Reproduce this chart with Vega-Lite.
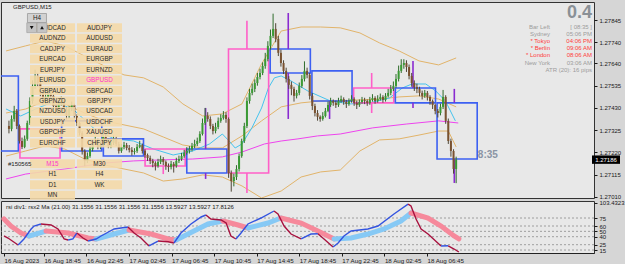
{
"$schema":"https://vega.github.io/schema/vega-lite/v6.json",
"background":"#d6d6d6",
"padding":{"left":0,"top":1,"right":0,"bottom":0},
"spacing":3,
"bounds":"flush",
"config":{"font":"Liberation Sans","view":{"stroke":"#333333","strokeWidth":1,"fill":"#e8e8e8"},
"axis":{"domain":false,"grid":false,"labelColor":"#1a1a1a","tickColor":"#1a1a1a","labelFont":"Liberation Sans","labelFontSize":6,"tickSize":3,"labelPadding":2,"labelOverlap":false,"labelFlush":false,"labelBound":false}},
"datasets":{
"candles":[
{"i":0,"o":1.27345,"h":1.2737,"l":1.2731,"c":1.27331},
{"i":1,"o":1.27331,"h":1.27395,"l":1.2732,"c":1.27378},
{"i":2,"o":1.27378,"h":1.2744,"l":1.27365,"c":1.27416},
{"i":3,"o":1.27416,"h":1.27425,"l":1.2733,"c":1.27345},
{"i":4,"o":1.27345,"h":1.27352,"l":1.27262,"c":1.27274},
{"i":5,"o":1.27274,"h":1.2729,"l":1.27236,"c":1.27246},
{"i":6,"o":1.27246,"h":1.273,"l":1.2724,"c":1.27284},
{"i":7,"o":1.27284,"h":1.2737,"l":1.27275,"c":1.27359},
{"i":8,"o":1.27359,"h":1.2748,"l":1.2735,"c":1.27463},
{"i":9,"o":1.27463,"h":1.2756,"l":1.2745,"c":1.27534},
{"i":10,"o":1.27534,"h":1.2761,"l":1.2752,"c":1.27581},
{"i":11,"o":1.27581,"h":1.27595,"l":1.2753,"c":1.27548},
{"i":12,"o":1.27548,"h":1.2756,"l":1.27485,"c":1.27501},
{"i":13,"o":1.27501,"h":1.27515,"l":1.27445,"c":1.27463},
{"i":14,"o":1.27463,"h":1.275,"l":1.2745,"c":1.27482},
{"i":15,"o":1.27482,"h":1.2753,"l":1.2747,"c":1.2751},
{"i":16,"o":1.2751,"h":1.27525,"l":1.2747,"c":1.27487},
{"i":17,"o":1.27487,"h":1.27495,"l":1.27425,"c":1.27439},
{"i":18,"o":1.27439,"h":1.2745,"l":1.274,"c":1.27416},
{"i":19,"o":1.27416,"h":1.2747,"l":1.27405,"c":1.27454},
{"i":20,"o":1.27454,"h":1.27485,"l":1.2744,"c":1.27463},
{"i":21,"o":1.27463,"h":1.27475,"l":1.2741,"c":1.27425},
{"i":22,"o":1.27425,"h":1.27435,"l":1.27375,"c":1.27392},
{"i":23,"o":1.27392,"h":1.2744,"l":1.2738,"c":1.27425},
{"i":24,"o":1.27425,"h":1.2746,"l":1.27415,"c":1.27444},
{"i":25,"o":1.27444,"h":1.2745,"l":1.2738,"c":1.27392},
{"i":26,"o":1.27392,"h":1.274,"l":1.27345,"c":1.27359},
{"i":27,"o":1.27359,"h":1.27365,"l":1.273,"c":1.27312},
{"i":28,"o":1.27312,"h":1.2732,"l":1.2721,"c":1.27227},
{"i":29,"o":1.27227,"h":1.27235,"l":1.27155,"c":1.2718},
{"i":30,"o":1.2718,"h":1.2722,"l":1.2717,"c":1.27203},
{"i":31,"o":1.27203,"h":1.2725,"l":1.27195,"c":1.27236},
{"i":32,"o":1.27236,"h":1.2728,"l":1.27225,"c":1.27265},
{"i":33,"o":1.27265,"h":1.27295,"l":1.27255,"c":1.27274},
{"i":34,"o":1.27274,"h":1.27285,"l":1.27235,"c":1.27246},
{"i":35,"o":1.27246,"h":1.27275,"l":1.27235,"c":1.2726},
{"i":36,"o":1.2726,"h":1.2731,"l":1.2725,"c":1.27293},
{"i":37,"o":1.27293,"h":1.27305,"l":1.2726,"c":1.27274},
{"i":38,"o":1.27274,"h":1.27285,"l":1.2724,"c":1.27251},
{"i":39,"o":1.27251,"h":1.2728,"l":1.2724,"c":1.27265},
{"i":40,"o":1.27265,"h":1.273,"l":1.27255,"c":1.27284},
{"i":41,"o":1.27284,"h":1.27295,"l":1.2725,"c":1.2726},
{"i":42,"o":1.2726,"h":1.2727,"l":1.27215,"c":1.27227},
{"i":43,"o":1.27227,"h":1.2726,"l":1.27218,"c":1.27246},
{"i":44,"o":1.27246,"h":1.2727,"l":1.27235,"c":1.27255},
{"i":45,"o":1.27255,"h":1.27265,"l":1.2723,"c":1.27241},
{"i":46,"o":1.27241,"h":1.27255,"l":1.2722,"c":1.27232},
{"i":47,"o":1.27232,"h":1.27245,"l":1.27205,"c":1.27222},
{"i":48,"o":1.27222,"h":1.2724,"l":1.2721,"c":1.27227},
{"i":49,"o":1.27227,"h":1.2726,"l":1.27218,"c":1.27246},
{"i":50,"o":1.27246,"h":1.27275,"l":1.2724,"c":1.27255},
{"i":51,"o":1.27255,"h":1.27262,"l":1.27215,"c":1.27227},
{"i":52,"o":1.27227,"h":1.27235,"l":1.27195,"c":1.27208},
{"i":53,"o":1.27208,"h":1.27215,"l":1.2718,"c":1.27194},
{"i":54,"o":1.27194,"h":1.27205,"l":1.27165,"c":1.2718},
{"i":55,"o":1.2718,"h":1.2719,"l":1.2715,"c":1.2717},
{"i":56,"o":1.2717,"h":1.27178,"l":1.27135,"c":1.27156},
{"i":57,"o":1.27156,"h":1.2719,"l":1.27148,"c":1.27175},
{"i":58,"o":1.27175,"h":1.27205,"l":1.27165,"c":1.27189},
{"i":59,"o":1.27189,"h":1.27198,"l":1.2716,"c":1.27175},
{"i":60,"o":1.27175,"h":1.27182,"l":1.27138,"c":1.27156},
{"i":61,"o":1.27156,"h":1.27168,"l":1.27128,"c":1.27151},
{"i":62,"o":1.27151,"h":1.2718,"l":1.2714,"c":1.27166},
{"i":63,"o":1.27166,"h":1.27175,"l":1.27125,"c":1.27156},
{"i":64,"o":1.27156,"h":1.27195,"l":1.27148,"c":1.2718},
{"i":65,"o":1.2718,"h":1.27205,"l":1.2717,"c":1.27189},
{"i":66,"o":1.27189,"h":1.27218,"l":1.2718,"c":1.27203},
{"i":67,"o":1.27203,"h":1.27232,"l":1.27195,"c":1.27218},
{"i":68,"o":1.27218,"h":1.27245,"l":1.2721,"c":1.27227},
{"i":69,"o":1.27227,"h":1.2725,"l":1.27215,"c":1.27236},
{"i":70,"o":1.27236,"h":1.27265,"l":1.27225,"c":1.27251},
{"i":71,"o":1.27251,"h":1.2728,"l":1.2724,"c":1.2726},
{"i":72,"o":1.2726,"h":1.2729,"l":1.2725,"c":1.27274},
{"i":73,"o":1.27274,"h":1.2732,"l":1.27265,"c":1.27307},
{"i":74,"o":1.27307,"h":1.2738,"l":1.273,"c":1.27359},
{"i":75,"o":1.27359,"h":1.2743,"l":1.2735,"c":1.27392},
{"i":76,"o":1.27392,"h":1.2741,"l":1.27365,"c":1.27378},
{"i":77,"o":1.27378,"h":1.2739,"l":1.2733,"c":1.27345},
{"i":78,"o":1.27345,"h":1.27355,"l":1.27305,"c":1.27321},
{"i":79,"o":1.27321,"h":1.2736,"l":1.2731,"c":1.2734},
{"i":80,"o":1.2734,"h":1.27385,"l":1.2733,"c":1.27369},
{"i":81,"o":1.27369,"h":1.274,"l":1.2736,"c":1.27383},
{"i":82,"o":1.27383,"h":1.27415,"l":1.27375,"c":1.27397},
{"i":83,"o":1.27397,"h":1.2741,"l":1.2736,"c":1.27378},
{"i":84,"o":1.27378,"h":1.27385,"l":1.271,"c":1.27123},
{"i":85,"o":1.27123,"h":1.27135,"l":1.27035,"c":1.27085},
{"i":86,"o":1.27085,"h":1.2712,"l":1.2706,"c":1.27104},
{"i":87,"o":1.27104,"h":1.2716,"l":1.2709,"c":1.27142},
{"i":88,"o":1.27142,"h":1.27215,"l":1.2713,"c":1.27203},
{"i":89,"o":1.27203,"h":1.27285,"l":1.27195,"c":1.27274},
{"i":90,"o":1.27274,"h":1.2736,"l":1.27265,"c":1.27345},
{"i":91,"o":1.27345,"h":1.2748,"l":1.27335,"c":1.27463},
{"i":92,"o":1.27463,"h":1.2752,"l":1.2745,"c":1.27501},
{"i":93,"o":1.27501,"h":1.27545,"l":1.2749,"c":1.2752},
{"i":94,"o":1.2752,"h":1.27565,"l":1.27505,"c":1.27548},
{"i":95,"o":1.27548,"h":1.27595,"l":1.27535,"c":1.27576},
{"i":96,"o":1.27576,"h":1.27615,"l":1.27565,"c":1.27595},
{"i":97,"o":1.27595,"h":1.27645,"l":1.27585,"c":1.27628},
{"i":98,"o":1.27628,"h":1.2769,"l":1.27615,"c":1.27661},
{"i":99,"o":1.27661,"h":1.27745,"l":1.2765,"c":1.27723},
{"i":100,"o":1.27723,"h":1.278,"l":1.27705,"c":1.2777},
{"i":101,"o":1.2777,"h":1.27875,"l":1.2776,"c":1.27803},
{"i":102,"o":1.27803,"h":1.2783,"l":1.2774,"c":1.27756},
{"i":103,"o":1.27756,"h":1.2777,"l":1.27675,"c":1.2769},
{"i":104,"o":1.2769,"h":1.27705,"l":1.27625,"c":1.27642},
{"i":105,"o":1.27642,"h":1.27655,"l":1.2759,"c":1.27605},
{"i":106,"o":1.27605,"h":1.2762,"l":1.2755,"c":1.27567},
{"i":107,"o":1.27567,"h":1.2758,"l":1.2752,"c":1.27539},
{"i":108,"o":1.27539,"h":1.27555,"l":1.2749,"c":1.2752},
{"i":109,"o":1.2752,"h":1.2753,"l":1.2746,"c":1.27487},
{"i":110,"o":1.27487,"h":1.27515,"l":1.27475,"c":1.27501},
{"i":111,"o":1.27501,"h":1.2755,"l":1.2749,"c":1.27534},
{"i":112,"o":1.27534,"h":1.27585,"l":1.27525,"c":1.27567},
{"i":113,"o":1.27567,"h":1.2765,"l":1.27555,"c":1.27605},
{"i":114,"o":1.27605,"h":1.2762,"l":1.2757,"c":1.27586},
{"i":115,"o":1.27586,"h":1.27595,"l":1.2747,"c":1.27487},
{"i":116,"o":1.27487,"h":1.275,"l":1.2742,"c":1.27439},
{"i":117,"o":1.27439,"h":1.2745,"l":1.2739,"c":1.27406},
{"i":118,"o":1.27406,"h":1.2742,"l":1.2737,"c":1.27388},
{"i":119,"o":1.27388,"h":1.27395,"l":1.27365,"c":1.27378},
{"i":120,"o":1.27378,"h":1.2741,"l":1.2737,"c":1.27392},
{"i":121,"o":1.27392,"h":1.2743,"l":1.27385,"c":1.27416},
{"i":122,"o":1.27416,"h":1.2746,"l":1.2741,"c":1.27444},
{"i":123,"o":1.27444,"h":1.27478,"l":1.27435,"c":1.27463},
{"i":124,"o":1.27463,"h":1.2747,"l":1.2744,"c":1.27454},
{"i":125,"o":1.27454,"h":1.27465,"l":1.2743,"c":1.27444},
{"i":126,"o":1.27444,"h":1.27478,"l":1.27435,"c":1.27463},
{"i":127,"o":1.27463,"h":1.27488,"l":1.27455,"c":1.27472},
{"i":128,"o":1.27472,"h":1.2748,"l":1.27445,"c":1.27458},
{"i":129,"o":1.27458,"h":1.27468,"l":1.2743,"c":1.27449},
{"i":130,"o":1.27449,"h":1.27475,"l":1.2744,"c":1.27463},
{"i":131,"o":1.27463,"h":1.2749,"l":1.27455,"c":1.27472},
{"i":132,"o":1.27472,"h":1.2748,"l":1.2744,"c":1.27454},
{"i":133,"o":1.27454,"h":1.27465,"l":1.27425,"c":1.27444},
{"i":134,"o":1.27444,"h":1.2747,"l":1.27435,"c":1.27458},
{"i":135,"o":1.27458,"h":1.27482,"l":1.2745,"c":1.27468},
{"i":136,"o":1.27468,"h":1.27478,"l":1.27448,"c":1.27463},
{"i":137,"o":1.27463,"h":1.2747,"l":1.2744,"c":1.27454},
{"i":138,"o":1.27454,"h":1.27482,"l":1.27445,"c":1.27468},
{"i":139,"o":1.27468,"h":1.27495,"l":1.2746,"c":1.27477},
{"i":140,"o":1.27477,"h":1.27485,"l":1.2745,"c":1.27463},
{"i":141,"o":1.27463,"h":1.2749,"l":1.27455,"c":1.27472},
{"i":142,"o":1.27472,"h":1.27498,"l":1.27465,"c":1.27482},
{"i":143,"o":1.27482,"h":1.2749,"l":1.27455,"c":1.27468},
{"i":144,"o":1.27468,"h":1.275,"l":1.2746,"c":1.27487},
{"i":145,"o":1.27487,"h":1.2752,"l":1.2748,"c":1.27501},
{"i":146,"o":1.27501,"h":1.27538,"l":1.2749,"c":1.2752},
{"i":147,"o":1.2752,"h":1.27555,"l":1.2751,"c":1.27534},
{"i":148,"o":1.27534,"h":1.2759,"l":1.27525,"c":1.27567},
{"i":149,"o":1.27567,"h":1.2763,"l":1.27555,"c":1.27605},
{"i":150,"o":1.27605,"h":1.2766,"l":1.27595,"c":1.27633},
{"i":151,"o":1.27633,"h":1.2766,"l":1.27615,"c":1.27642},
{"i":152,"o":1.27642,"h":1.27655,"l":1.276,"c":1.27623},
{"i":153,"o":1.27623,"h":1.27635,"l":1.27565,"c":1.27581},
{"i":154,"o":1.27581,"h":1.27595,"l":1.2753,"c":1.27548},
{"i":155,"o":1.27548,"h":1.2756,"l":1.2751,"c":1.27529},
{"i":156,"o":1.27529,"h":1.27545,"l":1.275,"c":1.2752},
{"i":157,"o":1.2752,"h":1.2753,"l":1.27485,"c":1.27501},
{"i":158,"o":1.27501,"h":1.27512,"l":1.2747,"c":1.27487},
{"i":159,"o":1.27487,"h":1.27515,"l":1.27478,"c":1.27501},
{"i":160,"o":1.27501,"h":1.2751,"l":1.27465,"c":1.27482},
{"i":161,"o":1.27482,"h":1.2749,"l":1.27445,"c":1.27463},
{"i":162,"o":1.27463,"h":1.2747,"l":1.27425,"c":1.27444},
{"i":163,"o":1.27444,"h":1.2745,"l":1.274,"c":1.27416},
{"i":164,"o":1.27416,"h":1.27425,"l":1.27385,"c":1.27406},
{"i":165,"o":1.27406,"h":1.2745,"l":1.27395,"c":1.27435},
{"i":166,"o":1.27435,"h":1.27515,"l":1.27425,"c":1.27482},
{"i":167,"o":1.27482,"h":1.2749,"l":1.27355,"c":1.27369},
{"i":168,"o":1.27369,"h":1.2738,"l":1.2726,"c":1.27274},
{"i":169,"o":1.27274,"h":1.27285,"l":1.272,"c":1.27227},
{"i":170,"o":1.27227,"h":1.27235,"l":1.2712,"c":1.27142},
{"i":171,"o":1.27142,"h":1.272,"l":1.27075,"c":1.27186}
],
"bands":[
{"b":"up","i":-1.1,"v":1.27699},{"b":"up","i":6.4,"v":1.27723},{"b":"up","i":13.9,"v":1.27746},{"b":"up","i":21.4,"v":1.27723},{"b":"up","i":28.9,"v":1.27675},{"b":"up","i":36.5,"v":1.27628},{"b":"up","i":44,"v":1.27586},{"b":"up","i":51.5,"v":1.27572},{"b":"up","i":59,"v":1.27529},{"b":"up","i":66.5,"v":1.27449},{"b":"up","i":74.1,"v":1.27392},{"b":"up","i":81.6,"v":1.27402},{"b":"up","i":89.1,"v":1.27449},{"b":"up","i":96.6,"v":1.27638},{"b":"up","i":104.1,"v":1.27793},{"b":"up","i":111.7,"v":1.27812},{"b":"up","i":119.2,"v":1.27812},{"b":"up","i":126.7,"v":1.27808},{"b":"up","i":134.2,"v":1.27784},{"b":"up","i":141.7,"v":1.27737},{"b":"up","i":149.2,"v":1.27699},{"b":"up","i":156.8,"v":1.27652},{"b":"up","i":164.3,"v":1.27633},{"b":"up","i":171,"v":1.27666},
{"b":"mid","i":-1.1,"v":1.27406},{"b":"mid","i":6.4,"v":1.27425},{"b":"mid","i":13.9,"v":1.27463},{"b":"mid","i":21.4,"v":1.27449},{"b":"mid","i":28.9,"v":1.27406},{"b":"mid","i":36.5,"v":1.27369},{"b":"mid","i":44,"v":1.2735},{"b":"mid","i":51.5,"v":1.27331},{"b":"mid","i":59,"v":1.27293},{"b":"mid","i":66.5,"v":1.27255},{"b":"mid","i":74.1,"v":1.27241},{"b":"mid","i":81.6,"v":1.27241},{"b":"mid","i":89.1,"v":1.27298},{"b":"mid","i":96.6,"v":1.27369},{"b":"mid","i":104.1,"v":1.27435},{"b":"mid","i":111.7,"v":1.27454},{"b":"mid","i":119.2,"v":1.27463},{"b":"mid","i":126.7,"v":1.27463},{"b":"mid","i":134.2,"v":1.27468},{"b":"mid","i":141.7,"v":1.27472},{"b":"mid","i":149.2,"v":1.27482},{"b":"mid","i":156.8,"v":1.27487},{"b":"mid","i":164.3,"v":1.27472},{"b":"mid","i":171,"v":1.27435},
{"b":"lo","i":-1.1,"v":1.27203},{"b":"lo","i":6.4,"v":1.27227},{"b":"lo","i":13.9,"v":1.27251},{"b":"lo","i":21.4,"v":1.27236},{"b":"lo","i":28.9,"v":1.27189},{"b":"lo","i":36.5,"v":1.27161},{"b":"lo","i":44,"v":1.27142},{"b":"lo","i":51.5,"v":1.27123},{"b":"lo","i":59,"v":1.27085},{"b":"lo","i":66.5,"v":1.27095},{"b":"lo","i":74.1,"v":1.27114},{"b":"lo","i":81.6,"v":1.27104},{"b":"lo","i":89.1,"v":1.27062},{"b":"lo","i":96.6,"v":1.27005},{"b":"lo","i":104.1,"v":1.27038},{"b":"lo","i":111.7,"v":1.27104},{"b":"lo","i":119.2,"v":1.27128},{"b":"lo","i":126.7,"v":1.27137},{"b":"lo","i":134.2,"v":1.27227},{"b":"lo","i":141.7,"v":1.27279},{"b":"lo","i":149.2,"v":1.27284},{"b":"lo","i":156.8,"v":1.27302},{"b":"lo","i":164.3,"v":1.27321},{"b":"lo","i":168,"v":1.27321},{"b":"lo","i":171,"v":1.27246}
],
"ma":[
{"m":"fast","i":-1.1,"v":1.27425},{"m":"fast","i":4.5,"v":1.27392},{"m":"fast","i":10.2,"v":1.27425},{"m":"fast","i":17.7,"v":1.27463},{"m":"fast","i":25.2,"v":1.27416},{"m":"fast","i":32.7,"v":1.27331},{"m":"fast","i":40.2,"v":1.27284},{"m":"fast","i":47.7,"v":1.27274},{"m":"fast","i":55.3,"v":1.27236},{"m":"fast","i":62.8,"v":1.27208},{"m":"fast","i":70.3,"v":1.27227},{"m":"fast","i":76.7,"v":1.2726},{"m":"fast","i":81.6,"v":1.27307},{"m":"fast","i":84.2,"v":1.27274},{"m":"fast","i":86.5,"v":1.27241},{"m":"fast","i":89.1,"v":1.2726},{"m":"fast","i":92.9,"v":1.27336},{"m":"fast","i":96.6,"v":1.2743},{"m":"fast","i":99.2,"v":1.27524},{"m":"fast","i":101.5,"v":1.27572},{"m":"fast","i":104.1,"v":1.27581},{"m":"fast","i":107.9,"v":1.27557},{"m":"fast","i":114.3,"v":1.2751},{"m":"fast","i":122.9,"v":1.27463},{"m":"fast","i":130.5,"v":1.27449},{"m":"fast","i":138,"v":1.27454},{"m":"fast","i":145.5,"v":1.27477},{"m":"fast","i":150.4,"v":1.27524},{"m":"fast","i":154.1,"v":1.27543},{"m":"fast","i":159.4,"v":1.27543},{"m":"fast","i":163.2,"v":1.2751},{"m":"fast","i":166.9,"v":1.27463},{"m":"fast","i":170.7,"v":1.27369},
{"m":"slow","i":-1.1,"v":1.27095},{"m":"slow","i":6.4,"v":1.27118},{"m":"slow","i":21.4,"v":1.27142},{"m":"slow","i":36.5,"v":1.2717},{"m":"slow","i":47.7,"v":1.2718},{"m":"slow","i":59,"v":1.27185},{"m":"slow","i":70.3,"v":1.27189},{"m":"slow","i":81.6,"v":1.27199},{"m":"slow","i":89.1,"v":1.27222},{"m":"slow","i":97.7,"v":1.2726},{"m":"slow","i":104.1,"v":1.27274},{"m":"slow","i":110.5,"v":1.27284},{"m":"slow","i":118,"v":1.27298},{"m":"slow","i":126.7,"v":1.27307},{"m":"slow","i":139.1,"v":1.27336},{"m":"slow","i":151.9,"v":1.27354},{"m":"slow","i":164.3,"v":1.27369},{"m":"slow","i":171.8,"v":1.27359}
],
"boxes":[
{"a":-11.75,"b":3.6,"top":1.27581,"bot":1.27227,"w":-4,"hi":1.27581,"lo":1.27227,"k":"bear"},
{"a":4.2,"b":19.55,"top":1.27331,"bot":1.27194,"w":12,"hi":1.27331,"lo":1.27194,"k":"bull"},
{"a":20.15,"b":35.5,"top":1.27369,"bot":1.27227,"w":28,"hi":1.27369,"lo":1.27227,"k":"bear"},
{"a":36.1,"b":51.45,"top":1.27284,"bot":1.27203,"w":43.6,"hi":1.27284,"lo":1.27203,"k":"bear"},
{"a":52.05,"b":67.4,"top":1.27236,"bot":1.27156,"w":59,"hi":1.27236,"lo":1.27118,"k":"bull"},
{"a":68,"b":83.35,"top":1.27236,"bot":1.27123,"w":75.2,"hi":1.2743,"lo":1.27095,"k":"bear"},
{"a":83.95,"b":99.3,"top":1.27708,"bot":1.27123,"w":91,"hi":1.27841,"lo":1.27029,"k":"bull"},
{"a":99.9,"b":115.25,"top":1.27708,"bot":1.27595,"w":106.8,"hi":1.27878,"lo":1.27378,"k":"bear"},
{"a":115.85,"b":131.2,"top":1.27605,"bot":1.27463,"w":122.6,"hi":1.27605,"lo":1.27378,"k":"bear"},
{"a":131.8,"b":147.15,"top":1.27524,"bot":1.27454,"w":138.7,"hi":1.27595,"lo":1.27406,"k":"bull"},
{"a":147.75,"b":163.1,"top":1.27524,"bot":1.27454,"w":154.5,"hi":1.27652,"lo":1.2743,"k":"bear"},
{"a":163.7,"b":179.05,"top":1.27454,"bot":1.27189,"w":170.3,"hi":1.2752,"lo":1.27076,"k":"bear"}
],
"notes":[{"t":"8:35","i":179.3,"p":1.27208}],
"last":[{"t":"1.27186","p":1.27186}],
"btn":[
{"t":"AUDCAD","col":0,"row":0},{"t":"AUDJPY","col":1,"row":0},
{"t":"AUDNZD","col":0,"row":1},{"t":"AUDUSD","col":1,"row":1},
{"t":"CADJPY","col":0,"row":2},{"t":"EURAUD","col":1,"row":2},
{"t":"EURCAD","col":0,"row":3},{"t":"EURGBP","col":1,"row":3},
{"t":"EURJPY","col":0,"row":4},{"t":"EURNZD","col":1,"row":4},
{"t":"EURUSD","col":0,"row":5},{"t":"GBPUSD","col":1,"row":5,"on":true},
{"t":"GBPAUD","col":0,"row":6},{"t":"GBPCAD","col":1,"row":6},
{"t":"GBPNZD","col":0,"row":7},{"t":"GBPJPY","col":1,"row":7},
{"t":"NZDUSD","col":0,"row":8},{"t":"USDCAD","col":1,"row":8},
{"t":"USDJPY","col":0,"row":9},{"t":"USDCHF","col":1,"row":9},
{"t":"GBPCHF","col":0,"row":10},{"t":"XAUUSD","col":1,"row":10},
{"t":"EURCHF","col":0,"row":11},{"t":"CHFJPY","col":1,"row":11},
{"t":"M15","col":0,"row":13,"on":true},{"t":"M30","col":1,"row":13},
{"t":"H1","col":0,"row":14},{"t":"H4","col":1,"row":14},
{"t":"D1","col":0,"row":15},{"t":"WK","col":1,"row":15},
{"t":"MN","col":0,"row":16}
],
"ui":[
{"k":"hdr","t":"GBPUSD,M15","col":-0.84,"row":-1.977},
{"k":"hdr","t":"#150565","col":-0.947,"row":12.97},
{"k":"tool","t":"H4","col":-0.33,"row":-0.926},
{"k":"arrow","t":"dn","col":-0.443,"row":0},
{"k":"arrow","t":"up","col":-0.223,"row":0},
{"k":"big","t":"0.4","col":11.479,"row":-1.404},
{"k":"info","t":"Bar Left","col":10.585,"row":-0.067},
{"k":"info","t":"[ 08:35 ]","col":11.479,"row":-0.067},
{"k":"info","t":"Sydney","col":10.585,"row":0.602},
{"k":"info","t":"05:06 PM","col":11.479,"row":0.602},
{"k":"info","t":"* Tokyo","col":10.585,"row":1.27,"hl":true},
{"k":"info","t":"04:06 PM","col":11.479,"row":1.27,"hl":true},
{"k":"info","t":"* Berlin","col":10.585,"row":1.967,"hl":true},
{"k":"info","t":"09:06 AM","col":11.479,"row":1.967,"hl":true},
{"k":"info","t":"* London","col":10.585,"row":2.636,"hl":true},
{"k":"info","t":"08:06 AM","col":11.479,"row":2.636,"hl":true},
{"k":"info","t":"New York","col":10.585,"row":3.343},
{"k":"info","t":"03:06 AM","col":11.479,"row":3.343},
{"k":"info","t":"ATR (20): 16 pips","col":11.479,"row":4.04}
],
"rsx":[
{"s":1,"d":"dn","i":0,"v":41.3},{"s":1,"d":"dn","i":1.5,"v":37.5},{"s":1,"d":"dn","i":5.3,"v":24.4},
{"s":2,"d":"up","i":5.3,"v":24.4},{"s":2,"d":"up","i":7.5,"v":35.7},{"s":2,"d":"up","i":10.2,"v":54.4},{"s":2,"d":"up","i":11.3,"v":60},{"s":2,"d":"up","i":13.9,"v":63.8},
{"s":3,"d":"dn","i":13.9,"v":63.8},{"s":3,"d":"dn","i":17.7,"v":61.9},{"s":3,"d":"dn","i":20.3,"v":54.4},{"s":3,"d":"dn","i":22.6,"v":35.7},{"s":3,"d":"dn","i":24.1,"v":33.8},
{"s":4,"d":"up","i":24.1,"v":33.8},{"s":4,"d":"up","i":25.9,"v":35.7},{"s":4,"d":"up","i":27.4,"v":46.9},
{"s":5,"d":"dn","i":27.4,"v":46.9},{"s":5,"d":"dn","i":29.7,"v":37.5},{"s":5,"d":"dn","i":31.6,"v":31.9},
{"s":6,"d":"up","i":31.6,"v":31.9},{"s":6,"d":"up","i":34.6,"v":35.7},{"s":6,"d":"up","i":36.5,"v":41.3},{"s":6,"d":"up","i":41.4,"v":54.4},{"s":6,"d":"up","i":46.6,"v":58.1},
{"s":7,"d":"dn","i":46.6,"v":58.1},{"s":7,"d":"dn","i":48.9,"v":46.9},{"s":7,"d":"dn","i":51.5,"v":37.5},{"s":7,"d":"dn","i":54.5,"v":22.6},
{"s":8,"d":"up","i":54.5,"v":22.6},{"s":8,"d":"up","i":57.9,"v":31.9},
{"s":9,"d":"dn","i":57.9,"v":31.9},{"s":9,"d":"dn","i":61.7,"v":30.5},{"s":9,"d":"dn","i":63.9,"v":28.2},
{"s":10,"d":"up","i":63.9,"v":28.2},{"s":10,"d":"up","i":66.5,"v":46.9},{"s":10,"d":"up","i":70.3,"v":63.8},{"s":10,"d":"up","i":74.1,"v":76.9},{"s":10,"d":"up","i":75.9,"v":80.6},
{"s":11,"d":"dn","i":75.9,"v":80.6},{"s":11,"d":"dn","i":77.8,"v":73.1},{"s":11,"d":"dn","i":81.6,"v":71.3},{"s":11,"d":"dn","i":83.5,"v":65.6},{"s":11,"d":"dn","i":85.3,"v":41.3},{"s":11,"d":"dn","i":87.2,"v":35.7},
{"s":12,"d":"up","i":87.2,"v":35.7},{"s":12,"d":"up","i":89.1,"v":46.9},{"s":12,"d":"up","i":91.7,"v":63.8},{"s":12,"d":"up","i":96.6,"v":75},{"s":12,"d":"up","i":101.5,"v":88.1},
{"s":13,"d":"dn","i":101.5,"v":88.1},{"s":13,"d":"dn","i":103,"v":82.5},{"s":13,"d":"dn","i":105.3,"v":60},{"s":13,"d":"dn","i":107.9,"v":45},{"s":13,"d":"dn","i":111.7,"v":35.7},
{"s":14,"d":"up","i":111.7,"v":35.7},{"s":14,"d":"up","i":115.4,"v":45},{"s":14,"d":"up","i":118,"v":45.5},
{"s":15,"d":"dn","i":118,"v":45.5},{"s":15,"d":"dn","i":120.3,"v":35.7},{"s":15,"d":"dn","i":123.7,"v":20.7},
{"s":16,"d":"up","i":123.7,"v":20.7},{"s":16,"d":"up","i":125.6,"v":28.2},{"s":16,"d":"up","i":127.8,"v":41.3},{"s":16,"d":"up","i":130.5,"v":50.6},{"s":16,"d":"up","i":136.8,"v":54.4},{"s":16,"d":"up","i":140.6,"v":60},{"s":16,"d":"up","i":146.6,"v":82.5},{"s":16,"d":"up","i":151.9,"v":101},
{"s":17,"d":"dn","i":151.9,"v":101},{"s":17,"d":"dn","i":153,"v":97.5},{"s":17,"d":"dn","i":154.9,"v":73.1},{"s":17,"d":"dn","i":156.8,"v":54.4},{"s":17,"d":"dn","i":159.4,"v":45},{"s":17,"d":"dn","i":164.3,"v":22.6},
{"s":18,"d":"up","i":164.3,"v":22.6},{"s":18,"d":"up","i":167,"v":23},
{"s":19,"d":"dn","i":167,"v":23},{"s":19,"d":"dn","i":169.2,"v":16.9},{"s":19,"d":"dn","i":171,"v":11.3}
],
"sig":[
{"s":1,"d":"dn","i":0,"v":73.1},{"s":1,"d":"dn","i":2.6,"v":60},{"s":1,"d":"dn","i":6.4,"v":46.9},{"s":1,"d":"dn","i":9.4,"v":41.3},
{"s":2,"d":"up","i":9.4,"v":41.3},{"s":2,"d":"up","i":15.8,"v":50.6},
{"s":3,"d":"dn","i":15.8,"v":50.6},{"s":3,"d":"dn","i":24.1,"v":46.9},{"s":3,"d":"dn","i":31.6,"v":37.5},{"s":3,"d":"dn","i":34.6,"v":35.7},
{"s":4,"d":"up","i":34.6,"v":35.7},{"s":4,"d":"up","i":41.4,"v":45},{"s":4,"d":"up","i":47,"v":52.5},
{"s":5,"d":"dn","i":47,"v":52.5},{"s":5,"d":"dn","i":55.3,"v":45},{"s":5,"d":"dn","i":61.7,"v":35.7},{"s":5,"d":"dn","i":64.7,"v":33.8},
{"s":6,"d":"up","i":64.7,"v":33.8},{"s":6,"d":"up","i":71.4,"v":50.6},{"s":6,"d":"up","i":76.7,"v":63.8},{"s":6,"d":"up","i":82.3,"v":69.4},
{"s":7,"d":"dn","i":82.3,"v":69.4},{"s":7,"d":"dn","i":88,"v":61.9},{"s":7,"d":"dn","i":91.7,"v":56.3},
{"s":8,"d":"up","i":91.7,"v":56.3},{"s":8,"d":"up","i":99.2,"v":65.6},{"s":8,"d":"up","i":104.1,"v":75},
{"s":9,"d":"dn","i":104.1,"v":75},{"s":9,"d":"dn","i":111.7,"v":65.6},{"s":9,"d":"dn","i":118,"v":50.6},{"s":9,"d":"dn","i":124.1,"v":35.7},
{"s":10,"d":"up","i":124.1,"v":35.7},{"s":10,"d":"up","i":130.5,"v":37.5},{"s":10,"d":"up","i":136.8,"v":45},{"s":10,"d":"up","i":142.9,"v":54.4},{"s":10,"d":"up","i":149.2,"v":69.4},{"s":10,"d":"up","i":153,"v":84.4},
{"s":11,"d":"dn","i":153,"v":84.4},{"s":11,"d":"dn","i":159.4,"v":75},{"s":11,"d":"dn","i":164.3,"v":60},{"s":11,"d":"dn","i":169.2,"v":41.3},{"s":11,"d":"dn","i":171,"v":35.7}
],
"lv":[{"v":75},{"v":60},{"v":50},{"v":40},{"v":25},{"v":15}]
},
"vconcat":[
{
"width":593,"height":196,
"layer":[
{"layer":[
{"data":{"name":"bands"},"mark":{"type":"line","color":"#e2b46a","strokeWidth":1,"clip":true},
"encoding":{
"x":{"field":"i","type":"quantitative","scale":{"domain":[-1.128,221.8],"nice":false,"zero":false},"axis":null},
"y":{"field":"v","type":"quantitative","scale":{"domain":[1.27005,1.2793],"nice":false,"zero":false},
"axis":{"orient":"right","values":[1.27845,1.2774,1.2764,1.27535,1.2743,1.27325,1.2722,1.27115,1.2701],"tickCount":40,"format":".5f","title":null,"labelOverlap":false,"labelFlush":false,"labelBound":false}},
"detail":{"field":"b","type":"nominal"}}},
{"mark":{"type":"rule","color":"#9c9c9c","strokeDash":[6,3,2,3],"strokeWidth":1},
"encoding":{"y":{"datum":1.27151,"type":"quantitative"}}},
{"data":{"name":"ma"},"mark":{"type":"line","strokeWidth":1,"clip":true},
"encoding":{"x":{"field":"i","type":"quantitative","axis":null},"y":{"field":"v","type":"quantitative"},
"color":{"field":"m","type":"nominal","scale":{"domain":["fast","slow"],"range":["#45c3ee","#ee44ee"]},"legend":null}}},
{"data":{"name":"boxes"},"mark":{"type":"rect","fillOpacity":0,"strokeWidth":1.6,"clip":true},
"encoding":{"x":{"field":"a","type":"quantitative","axis":null},"x2":{"field":"b"},
"y":{"field":"top","type":"quantitative"},"y2":{"field":"bot"},
"stroke":{"condition":{"test":"datum.k=='bull'","value":"#ff5fc8"},"value":"#3d60f2"}}},
{"data":{"name":"boxes"},"mark":{"type":"rule","strokeWidth":1.6,"clip":true},
"encoding":{"x":{"field":"w","type":"quantitative","axis":null},"y":{"field":"hi","type":"quantitative"},"y2":{"field":"top"},
"stroke":{"condition":{"test":"datum.k=='bull'","value":"#ff5fc8"},"value":"#8a2bd0"}}},
{"data":{"name":"boxes"},"mark":{"type":"rule","strokeWidth":1.6,"clip":true},
"encoding":{"x":{"field":"w","type":"quantitative","axis":null},"y":{"field":"bot","type":"quantitative"},"y2":{"field":"lo"},
"stroke":{"condition":{"test":"datum.k=='bull'","value":"#ff5fc8"},"value":"#8a2bd0"}}},
{"data":{"name":"candles"},"mark":{"type":"rule","strokeWidth":1},
"encoding":{"x":{"field":"i","type":"quantitative","axis":null},"y":{"field":"l","type":"quantitative"},"y2":{"field":"h"},
"stroke":{"condition":{"test":"datum.c>=datum.o","value":"#2f6b2b"},"value":"#4e4636"}}},
{"data":{"name":"candles"},"mark":{"type":"bar","size":2},
"encoding":{"x":{"field":"i","type":"quantitative","axis":null},"y":{"field":"o","type":"quantitative"},"y2":{"field":"c"},
"color":{"condition":{"test":"datum.c>=datum.o","value":"#3a9a34"},"value":"#7a5230"}}},
{"data":{"name":"notes"},"mark":{"type":"text","align":"left","baseline":"middle","fontSize":10,"fontWeight":"bold","color":"#8a94a4"},
"encoding":{"x":{"field":"i","type":"quantitative","axis":null},"y":{"field":"p","type":"quantitative"},"text":{"field":"t"}}},
{"data":{"name":"last"},"mark":{"type":"point","shape":"M-1,-0.3H1V0.3H-1Z","size":784,"filled":true,"fill":"#000000","opacity":1,"strokeWidth":0,"xOffset":17},
"encoding":{"x":{"datum":221.8,"type":"quantitative","axis":null},"y":{"field":"p","type":"quantitative"}}},
{"data":{"name":"last"},"mark":{"type":"text","align":"center","baseline":"middle","fontSize":6,"color":"#ffffff","xOffset":17},
"encoding":{"x":{"datum":221.8,"type":"quantitative","axis":null},"y":{"field":"p","type":"quantitative"},"text":{"field":"t"}}}
]},
{"layer":[
{"data":{"name":"btn"},"mark":{"type":"point","shape":"M-1,-0.2H1V0.2H-1Z","size":2025,"filled":true,"fill":"#f4d9a9","opacity":0.9,"strokeWidth":0},
"encoding":{"x":{"field":"col","type":"quantitative","scale":{"domain":[-1.0957,11.5213],"nice":false,"zero":false},"axis":null},
"y":{"field":"row","type":"quantitative","scale":{"domain":[-2.455,16.265],"nice":false,"zero":false,"reverse":true},"axis":null}}},
{"data":{"name":"btn"},"mark":{"type":"text","fontSize":6.3,"baseline":"middle","align":"center"},
"encoding":{"x":{"field":"col","type":"quantitative","axis":null},"y":{"field":"row","type":"quantitative","axis":null},"text":{"field":"t"},
"color":{"condition":{"test":"datum.on","value":"#ff30cc"},"value":"#2a2a2a"}}},
{"data":{"name":"ui"},"transform":[{"filter":"datum.k=='tool'"}],"mark":{"type":"point","shape":"M-1,-0.474H1V0.474H-1Z","size":361,"filled":true,"fill":"#d2d2d2","stroke":"#9a9a9a","strokeWidth":0.8,"opacity":1},
"encoding":{"x":{"field":"col","type":"quantitative","axis":null},"y":{"field":"row","type":"quantitative","axis":null}}},
{"data":{"name":"ui"},"transform":[{"filter":"datum.k=='tool'"}],"mark":{"type":"text","fontSize":6.3,"baseline":"middle","align":"center","color":"#1a1a1a"},
"encoding":{"x":{"field":"col","type":"quantitative","axis":null},"y":{"field":"row","type":"quantitative","axis":null},"text":{"field":"t"}}},
{"data":{"name":"ui"},"transform":[{"filter":"datum.k=='arrow'"}],"mark":{"type":"point","shape":"square","size":96,"filled":true,"fill":"#c4c4c4","stroke":"#9a9a9a","strokeWidth":0.6,"opacity":1},
"encoding":{"x":{"field":"col","type":"quantitative","axis":null},"y":{"field":"row","type":"quantitative","axis":null}}},
{"data":{"name":"ui"},"transform":[{"filter":"datum.k=='arrow'"}],"mark":{"type":"point","size":14,"filled":true,"fill":"#111111","opacity":1,"strokeWidth":0},
"encoding":{"x":{"field":"col","type":"quantitative","axis":null},"y":{"field":"row","type":"quantitative","axis":null},
"shape":{"field":"t","type":"nominal","scale":{"domain":["dn","up"],"range":["triangle-down","triangle-up"]},"legend":null}}},
{"data":{"name":"ui"},"transform":[{"filter":"datum.k=='hdr'"}],"mark":{"type":"text","fontSize":6,"baseline":"middle","align":"left","color":"#1a1a1a"},
"encoding":{"x":{"field":"col","type":"quantitative","axis":null},"y":{"field":"row","type":"quantitative","axis":null},"text":{"field":"t"}}},
{"data":{"name":"ui"},"transform":[{"filter":"datum.k=='info'"}],"mark":{"type":"text","fontSize":6,"baseline":"middle","align":"right"},
"encoding":{"x":{"field":"col","type":"quantitative","axis":null},"y":{"field":"row","type":"quantitative","axis":null},"text":{"field":"t"},
"color":{"condition":{"test":"datum.hl","value":"#ff3b3b"},"value":"#9c9c9c"}}},
{"data":{"name":"ui"},"transform":[{"filter":"datum.k=='big'"}],"mark":{"type":"text","fontSize":18,"fontWeight":"bold","baseline":"middle","align":"right","color":"#8a9096"},
"encoding":{"x":{"field":"col","type":"quantitative","axis":null},"y":{"field":"row","type":"quantitative","axis":null},"text":{"field":"t"}}}
]}
],
"resolve":{"scale":{"x":"independent","y":"independent"}}
},
{
"width":593,"height":52,
"layer":[
{"data":{"name":"lv"},"mark":{"type":"rule","stroke":"#8c8c8c","strokeDash":[2,2],"strokeWidth":0.8},
"encoding":{"y":{"field":"v","type":"quantitative","scale":{"domain":[9.45,106.84],"nice":false,"zero":false},
"axis":{"orient":"right","values":[103.4323,75,60,50,40,25,15],"tickCount":40,"labelExpr":"datum.value > 100 ? '103.4323' : '' + datum.value","title":null,"labelOverlap":false,"labelFlush":false,"labelBound":false}}}},
{"data":{"name":"sig"},"mark":{"type":"line","strokeWidth":5,"strokeCap":"round","clip":true},
"encoding":{"x":{"field":"i","type":"quantitative","scale":{"domain":[-1.128,221.8],"nice":false,"zero":false},
"axis":{"values":[0,15,31,47,63,79,95,111,127,143,159],"tickCount":40,"labelExpr":"['16 Aug 2023','16 Aug 18:45','16 Aug 22:45','17 Aug 02:45','17 Aug 06:45','17 Aug 10:45','17 Aug 14:45','17 Aug 18:45','17 Aug 22:45','18 Aug 02:45','18 Aug 06:45'][round((datum.value+1)/16)]","labelAlign":"left","labelFontSize":6.2,"labelPadding":1,"title":null,"domain":true,"domainColor":"#222222","labelOverlap":false,"labelFlush":false,"labelBound":false}},
"y":{"field":"v","type":"quantitative"},"detail":{"field":"s","type":"nominal"},
"stroke":{"condition":{"test":"datum.d=='up'","value":"#86c9f5"},"value":"#f6899b"}}},
{"data":{"name":"rsx"},"mark":{"type":"line","strokeWidth":1.4,"clip":true},
"encoding":{"x":{"field":"i","type":"quantitative"},"y":{"field":"v","type":"quantitative"},"detail":{"field":"s","type":"nominal"},
"stroke":{"condition":{"test":"datum.d=='up'","value":"#3354e0"},"value":"#a8123f"}}},
{"data":{"values":[{"t":"rsi div1: rsx2 Ma (21.00) 31.1556 31.1556 31.1556 31.1556 13.5927 13.5927 17.8126","i":0.75,"v":95.6}]},
"mark":{"type":"text","align":"left","baseline":"middle","fontSize":6,"color":"#1a1a1a"},
"encoding":{"x":{"field":"i","type":"quantitative"},"y":{"field":"v","type":"quantitative"},"text":{"field":"t"}}}
]
}
]
}
